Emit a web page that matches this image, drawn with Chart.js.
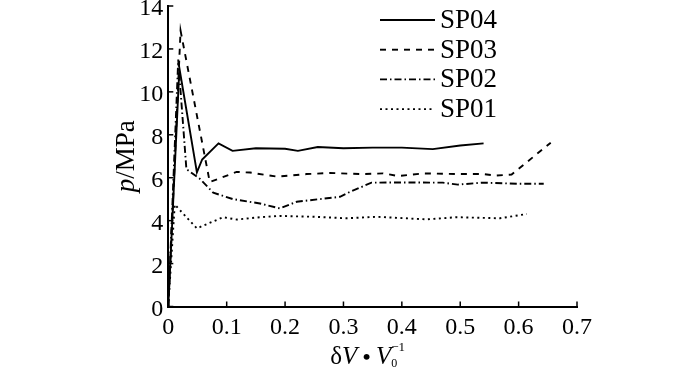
<!DOCTYPE html>
<html>
<head>
<meta charset="utf-8">
<script src="https://cdn.jsdelivr.net/npm/chart.js@4.4.1/dist/chart.umd.min.js"></script>
<style>
  html, body { margin: 0; padding: 0; background: #fff; }
  #wrap { width: 700px; height: 368px; }
</style>
</head>
<body>
<div id="wrap"><canvas id="pv" width="700" height="368"></canvas></div>
<script>
// values
var seriesNames = ['SP04', 'SP03', 'SP02', 'SP01'];

var sp04X = [0, 0.019, 0.049, 0.058, 0.086, 0.11, 0.15, 0.2, 0.222, 0.256, 0.3, 0.35, 0.4, 0.453, 0.5, 0.54];
var sp04Y = [0, 11.1, 6.25, 6.85, 7.6, 7.25, 7.37, 7.35, 7.25, 7.43, 7.37, 7.4, 7.4, 7.33, 7.5, 7.6];

var sp03X = [0, 0.021, 0.071, 0.117, 0.14, 0.186, 0.237, 0.277, 0.33, 0.368, 0.394, 0.437, 0.5, 0.539, 0.562, 0.588, 0.655];
var sp03Y = [0, 12.85, 5.8, 6.27, 6.24, 6.05, 6.17, 6.22, 6.17, 6.2, 6.08, 6.2, 6.17, 6.17, 6.1, 6.15, 7.63];

var sp02X = [0, 0.017, 0.031, 0.054, 0.077, 0.111, 0.157, 0.191, 0.22, 0.294, 0.308, 0.348, 0.4, 0.47, 0.496, 0.539, 0.597, 0.643];
var sp02Y = [0, 11.5, 6.4, 5.95, 5.3, 5.0, 4.8, 4.57, 4.88, 5.11, 5.3, 5.77, 5.78, 5.77, 5.68, 5.77, 5.72, 5.72];

var sp01X = [0, 0.011, 0.049, 0.094, 0.117, 0.157, 0.191, 0.25, 0.305, 0.357, 0.442, 0.494, 0.568, 0.614];
var sp01Y = [0, 4.75, 3.64, 4.16, 4.05, 4.16, 4.22, 4.18, 4.11, 4.18, 4.06, 4.16, 4.11, 4.31];

var xTicks = [0, 0.1, 0.2, 0.3, 0.4, 0.5, 0.6, 0.7];
var yTicks = [0, 2, 4, 6, 8, 10, 12, 14];

var serif = "'Liberation Serif', 'Times New Roman', serif";
var dashes = [[], [6, 6], [7, 3, 1.5, 3], [2, 3.5]];

function pts(xs, ys) {
    var out = [];
    for (var i = 0; i < xs.length; i++) out.push({x: xs[i], y: ys[i]});
    return out;
}

var allX = [sp04X, sp03X, sp02X, sp01X];
var allY = [sp04Y, sp03Y, sp02Y, sp01Y];
var datasets = [];
for (var i = 0; i < seriesNames.length; i++) {
    datasets.push({
        label: seriesNames[i],
        data: pts(allX[i], allY[i]),
        borderColor: '#000',
        borderWidth: 1.9,
        borderDash: dashes[i],
        pointRadius: 0,
        tension: 0,
        fill: false
    });
}

// inward tick marks
var tickMarks = {
    id: 'tickMarks',
    afterDraw: function(chart) {
        var c = chart.ctx, xs = chart.scales.x, ys = chart.scales.y, a = chart.chartArea;
        c.save();
        c.strokeStyle = '#000';
        c.lineWidth = 1.5;
        xTicks.forEach(function(v) {
            var px = xs.getPixelForValue(v);
            c.beginPath(); c.moveTo(px, a.bottom); c.lineTo(px, a.bottom - 5); c.stroke();
        });
        yTicks.forEach(function(v) {
            var py = ys.getPixelForValue(v);
            c.beginPath(); c.moveTo(a.left, py); c.lineTo(a.left + 5, py); c.stroke();
        });
        c.restore();
    }
};

// legend inside the plot
var innerLegend = {
    id: 'innerLegend',
    afterDraw: function(chart) {
        var c = chart.ctx;
        c.save();
        c.strokeStyle = '#000';
        c.lineWidth = 1.9;
        c.fillStyle = '#000';
        c.font = '27px ' + serif;
        c.textBaseline = 'middle';
        for (var i = 0; i < seriesNames.length; i++) {
            var y = 20 + i * 29.7;
            c.setLineDash(dashes[i]);
            c.beginPath(); c.moveTo(380, y); c.lineTo(435, y); c.stroke();
            c.setLineDash([]);
            c.fillText(seriesNames[i], 440, y + 1);
        }
        c.restore();
    }
};

// axis titles with italic / sub / superscript parts
function drawParts(c, parts, x, y) {
    var w = 0;
    parts.forEach(function(p) { c.font = p.f; if (!p.stack) w += c.measureText(p.t).width; });
    var cx = x - w / 2, lastX = cx;
    parts.forEach(function(p) {
        c.font = p.f;
        var px = p.stack ? lastX : cx;
        c.fillText(p.t, px, y + (p.dy || 0));
        if (!p.stack) { lastX = cx; cx += c.measureText(p.t).width; }
    });
}
var axisTitles = {
    id: 'axisTitles',
    afterDraw: function(chart) {
        var c = chart.ctx, a = chart.chartArea;
        c.save();
        c.fillStyle = '#000';
        c.textBaseline = 'alphabetic';
        drawParts(c, [
            {t: '\u03B4', f: '25px ' + serif},
            {t: 'V', f: 'italic 25px ' + serif},
            {t: ' \u2022 ', f: 'bold 22px ' + serif},
            {t: 'V', f: 'italic 25px ' + serif},
            {t: '0', f: '12px ' + serif, dy: 3},
            {t: '\u22121', f: '13px ' + serif, dy: -13, stack: true},
            {t: '\u2002', f: '13px ' + serif}
        ], 367, 364);
        c.translate(134, (a.top + a.bottom) / 2);
        c.rotate(-Math.PI / 2);
        drawParts(c, [
            {t: 'p', f: 'italic 27px ' + serif},
            {t: '/MPa', f: '27px ' + serif}
        ], 0, 0);
        c.restore();
    }
};

var chart = new Chart(document.getElementById('pv').getContext('2d'), {
    type: 'line',
    data: { datasets: datasets },
    plugins: [tickMarks, innerLegend, axisTitles],
    options: {
        responsive: false,
        animation: false,
        devicePixelRatio: 1,
        layout: { padding: { top: 6, right: 123, left: 0, bottom: 0 } },
        plugins: { legend: { display: false }, tooltip: { enabled: false } },
        scales: {
            x: {
                type: 'linear', min: 0, max: 0.7,
                afterBuildTicks: function(s) { s.ticks = xTicks.map(function(v) { return {value: v}; }); },
                afterFit: function(s) { s.height = 61.5; s.paddingLeft = 0; s.paddingRight = 0; },
                grid: { display: false, drawTicks: false, tickLength: 0 },
                border: { display: true, color: '#000', width: 2 },
                ticks: {
                    color: '#000', padding: 7, maxRotation: 0,
                    font: { family: serif, size: 24 },
                    callback: function(v) { return String(v); }
                }
            },
            y: {
                type: 'linear', min: 0, max: 14,
                afterBuildTicks: function(s) { s.ticks = yTicks.map(function(v) { return {value: v}; }); },
                afterFit: function(s) { s.width = 168.3; s.paddingTop = 0; s.paddingBottom = 0; },
                grid: { display: false, drawTicks: false, tickLength: 0 },
                border: { display: true, color: '#000', width: 2 },
                ticks: {
                    color: '#000', padding: 5, labelOffset: 3,
                    font: { family: serif, size: 24 },
                    callback: function(v) { return String(v); }
                }
            }
        }
    }
});
</script>
</body>
</html>
